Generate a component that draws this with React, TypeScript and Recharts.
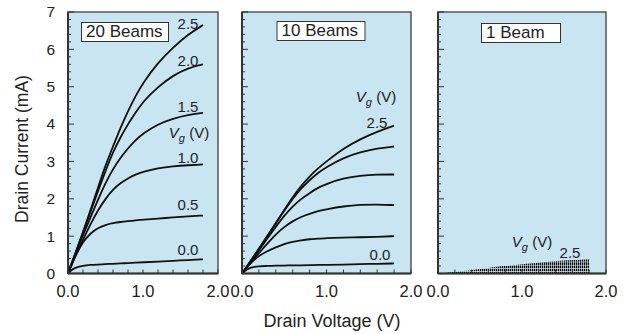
import React from 'react';
import { ComposedChart, Line, Area, XAxis, YAxis, ReferenceArea } from 'recharts';

// drain voltage grid (V) shared by the 20 and 10 beam panels
const drainVoltage = [0, 0.05, 0.1, 0.2, 0.3, 0.4, 0.5, 0.6, 0.7, 0.8, 0.9, 1.0, 1.2, 1.4, 1.6, 1.8];

// 20 beams, Vg = 0.0 .. 2.5 V (mA)
const beams20 = [
  [0, 0.1, 0.16, 0.21, 0.23, 0.24, 0.25, 0.26, 0.27, 0.28, 0.29, 0.3, 0.32, 0.34, 0.36, 0.38],
  [0, 0.25, 0.48, 0.85, 1.08, 1.22, 1.3, 1.35, 1.38, 1.4, 1.42, 1.44, 1.47, 1.5, 1.53, 1.55],
  [0, 0.24, 0.47, 0.9, 1.32, 1.7, 2.0, 2.25, 2.42, 2.55, 2.65, 2.72, 2.82, 2.87, 2.9, 2.92],
  [0, 0.26, 0.52, 1.02, 1.5, 1.98, 2.42, 2.8, 3.1, 3.35, 3.57, 3.75, 4.0, 4.15, 4.25, 4.3],
  [0, 0.28, 0.55, 1.1, 1.65, 2.2, 2.75, 3.25, 3.65, 4.0, 4.3, 4.6, 5.0, 5.3, 5.5, 5.6],
  [0, 0.28, 0.55, 1.1, 1.7, 2.3, 2.9, 3.4, 3.9, 4.35, 4.75, 5.1, 5.65, 6.05, 6.4, 6.65],
];

// 10 beams, Vg = 0.0 .. 2.5 V (mA)
const beams10 = [
  [0, 0.1, 0.16, 0.2, 0.2, 0.21, 0.21, 0.22, 0.22, 0.22, 0.23, 0.23, 0.24, 0.25, 0.26, 0.27],
  [0, 0.14, 0.27, 0.48, 0.6, 0.7, 0.79, 0.85, 0.89, 0.92, 0.93, 0.95, 0.96, 0.97, 0.98, 1.0],
  [0, 0.14, 0.28, 0.55, 0.8, 1.05, 1.25, 1.4, 1.52, 1.6, 1.67, 1.72, 1.8, 1.84, 1.85, 1.83],
  [0, 0.15, 0.31, 0.62, 0.94, 1.25, 1.55, 1.8, 2.0, 2.15, 2.3, 2.4, 2.55, 2.62, 2.65, 2.65],
  [0, 0.16, 0.33, 0.66, 1.0, 1.35, 1.68, 2.0, 2.28, 2.5, 2.7, 2.85, 3.1, 3.25, 3.35, 3.4],
  [0, 0.16, 0.33, 0.66, 1.0, 1.35, 1.7, 2.05, 2.35, 2.6, 2.82, 3.0, 3.35, 3.6, 3.8, 3.96],
];

// 1 beam: envelope of the crowded curves (Vg = 2.5 V on top)
const beam1Voltage = [0.1, 0.2, 0.3, 0.4, 0.5, 0.6, 0.7, 0.8, 0.9, 1.0, 1.1, 1.2, 1.3, 1.4, 1.5, 1.6, 1.7, 1.8];
const beam1Current = [0.03, 0.05, 0.07, 0.09, 0.12, 0.15, 0.18, 0.2, 0.22, 0.25, 0.27, 0.29, 0.31, 0.33, 0.35, 0.36, 0.37, 0.38];

const currentMajor = [0, 1, 2, 3, 4, 5, 6, 7];
const voltageMajor = [0, 1, 2];
const currentTicks = Array.from({ length: 36 }, (_, k) => k / 5);
const voltageTicks = Array.from({ length: 11 }, (_, k) => k / 5);

const FONT = '"Liberation Sans", Arial, sans-serif';
const INK = '#222';
const PANEL_BG = '#c9e5f1';

const toRows = (xs: number[], series: number[][]) =>
  xs.map((v, i) => {
    const row: Record<string, number> = { v };
    series.forEach((s, j) => (row['s' + j] = s[i]));
    return row;
  });

const isMajor = (v: number, majors: number[]) => majors.some(m => Math.abs(m - v) < 1e-6);

const XTick = (props: any) => {
  const { x, y, payload } = props;
  const major = isMajor(payload.value, voltageMajor);
  return (
    <g>
      <line x1={x} x2={x} y1={y} y2={y - 4} stroke="#333" strokeWidth={1} />
      {major && (
        <text x={x} y={y + 18} dy="0.35em" textAnchor="middle" fill={INK} fontSize={16.5} fontFamily={FONT}>
          {payload.value.toFixed(1)}
        </text>
      )}
    </g>
  );
};

const YTick = (props: any) => {
  const { x, y, payload, showLabel } = props;
  const major = isMajor(payload.value, currentMajor);
  return (
    <g>
      <line x1={x} x2={x + (major ? 6 : 3)} y1={y} y2={y} stroke="#333" strokeWidth={1} />
      {showLabel && major && (
        <text x={x - 13} y={y} dy="0.35em" textAnchor="end" fill={INK} fontSize={15.5} fontFamily={FONT}>
          {payload.value}
        </text>
      )}
    </g>
  );
};

const Panel = ({ width, yWidth, marginLeft, showLabels, children }: any) => (
  <ComposedChart width={width} height={310} margin={{ top: 12, right: 12, bottom: 0, left: marginLeft }}>
    <defs>
      <pattern id="hatch" width="2" height="3.2" patternUnits="userSpaceOnUse">
        <rect x="0" y="0" width="1.3" height="2.5" fill="#000" />
      </pattern>
    </defs>
    <XAxis
      dataKey="v"
      type="number"
      domain={[0, 2]}
      ticks={voltageTicks}
      interval={0}
      height={36.5}
      tickSize={0}
      tickMargin={0}
      tick={<XTick />}
      axisLine={{ stroke: '#333', strokeWidth: 2 }}
      allowDuplicatedCategory={false}
    />
    <YAxis
      type="number"
      domain={[0, 7]}
      ticks={currentTicks}
      interval={0}
      width={yWidth}
      tickSize={0}
      tickMargin={0}
      tick={<YTick showLabel={showLabels} />}
      axisLine={{ stroke: '#333', strokeWidth: 2 }}
    />
    <ReferenceArea x1={0} x2={2} y1={0} y2={7} fill={PANEL_BG} fillOpacity={1} stroke="#555" strokeWidth={1.5} />
    {children}
  </ComposedChart>
);

const curves = (rows: Record<string, number>[], n: number) =>
  Array.from({ length: n }, (_, j) => (
    <Line
      key={j}
      data={rows}
      dataKey={'s' + j}
      type="basis"
      stroke="#111"
      strokeWidth={1.8}
      dot={false}
      isAnimationActive={false}
    />
  ));

const Vg = () => (
  <>
    <i>V</i>
    <i style={{ fontSize: 11, position: 'relative', top: 4 }}>g</i>
    <span> (V)</span>
  </>
);

const Note = ({ x, y, children, box }: any) => (
  <div
    style={{
      position: 'absolute',
      left: x,
      top: y,
      transform: 'translate(-50%, -50%)',
      whiteSpace: 'nowrap',
      fontSize: box ? 17 : 15,
      lineHeight: box ? '18px' : '16px',
      color: INK,
      background: box ? '#fff' : 'transparent',
      border: box ? '1px solid #333' : 'none',
      padding: box ? '0 0 0 4px' : 0,
      width: box,
      textAlign: box ? 'left' : 'center',
    }}
  >
    {children}
  </div>
);

export default function App() {
  const rows20 = toRows(drainVoltage, beams20);
  const rows10 = toRows(drainVoltage, beams10);
  const rows1 = toRows(beam1Voltage, [beam1Current]);

  return (
    <div style={{ position: 'absolute', left: 0, top: 0, width: 626, height: 334, background: '#fff', fontFamily: FONT }}>
      <div style={{ position: 'absolute', left: 0, top: 0 }}>
        <Panel width={230} yWidth={68} marginLeft={0} showLabels>
          {curves(rows20, beams20.length)}
        </Panel>
      </div>
      <div style={{ position: 'absolute', left: 230, top: 0 }}>
        <Panel width={193} yWidth={10} marginLeft={2} showLabels={false}>
          {curves(rows10, beams10.length)}
        </Panel>
      </div>
      <div style={{ position: 'absolute', left: 426, top: 0 }}>
        <Panel width={192} yWidth={10} marginLeft={2} showLabels={false}>
          <Area
            data={rows1}
            dataKey="s0"
            type="monotone"
            stroke="none"
            fill="url(#hatch)"
            fillOpacity={1}
            isAnimationActive={false}
          />
        </Panel>
      </div>

      {/* panel boxes */}
      <Note x={125} y={32} box={82}>20 Beams</Note>
      <Note x={321} y={31} box={83}>10 Beams</Note>
      <Note x={521} y={33} box={74}>1 Beam</Note>

      {/* curve labels, 20 beams */}
      <Note x={188} y={24}>2.5</Note>
      <Note x={188} y={61}>2.0</Note>
      <Note x={188} y={107}>1.5</Note>
      <Note x={189} y={133}><Vg /></Note>
      <Note x={188} y={158}>1.0</Note>
      <Note x={188} y={205}>0.5</Note>
      <Note x={188} y={250}>0.0</Note>

      {/* 10 beams */}
      <Note x={376} y={97}><Vg /></Note>
      <Note x={377} y={123}>2.5</Note>
      <Note x={380} y={255}>0.0</Note>

      {/* 1 beam */}
      <Note x={532} y={242}><Vg /></Note>
      <Note x={570} y={253}>2.5</Note>

      <div
        style={{
          position: 'absolute',
          left: 22,
          top: 149,
          transform: 'translate(-50%, -50%) rotate(-90deg)',
          whiteSpace: 'nowrap',
          fontSize: 17.5,
          color: INK,
        }}
      >
        Drain Current (mA)
      </div>
      <div
        style={{
          position: 'absolute',
          left: 332,
          top: 321,
          transform: 'translate(-50%, -50%)',
          whiteSpace: 'nowrap',
          fontSize: 18,
          color: INK,
        }}
      >
        Drain Voltage (V)
      </div>
    </div>
  );
}
